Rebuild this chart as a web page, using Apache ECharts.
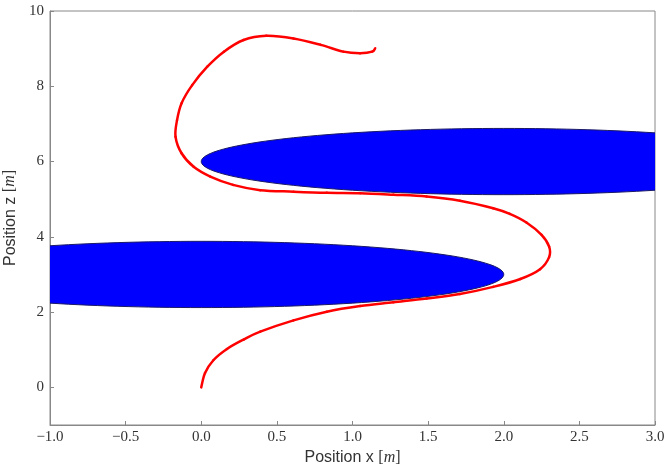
<!DOCTYPE html>
<html>
<head>
<meta charset="utf-8">
<script src="https://cdn.jsdelivr.net/npm/echarts@6/dist/echarts.min.js"></script>
<style>
  html, body { margin: 0; padding: 0; background: #fff; }
  #chart { width: 672px; height: 467px; }
</style>
</head>
<body>
<div id="chart"></div>
<script>
// trajectory
const trajX = [0.00, 0.025, 0.08, 0.17, 0.28, 0.39, 0.61, 0.83, 1.05, 1.27, 1.49, 1.71, 1.93, 2.11, 2.24, 2.30, 2.30, 2.25, 2.15, 2.04, 1.93, 1.71, 1.49, 1.27, 1.05, 0.83, 0.61, 0.39, 0.21, 0.06, -0.05, -0.13, -0.17, -0.16, -0.13, -0.06, 0.04, 0.15, 0.28, 0.43, 0.61, 0.79, 0.94, 1.05, 1.13, 1.15];
const trajZ = [0.00, 0.38, 0.72, 1.02, 1.27, 1.48, 1.78, 2.01, 2.16, 2.26, 2.36, 2.48, 2.67, 2.88, 3.14, 3.46, 3.74, 4.05, 4.38, 4.61, 4.76, 4.96, 5.07, 5.12, 5.16, 5.17, 5.20, 5.24, 5.38, 5.60, 5.86, 6.22, 6.66, 7.10, 7.55, 8.03, 8.52, 8.92, 9.23, 9.34, 9.27, 9.10, 8.92, 8.88, 8.92, 9.01];

// elliptical obstacles: centre, half-length, half-height
const obstacleCx = [2.0, 0.0];
const obstacleCz = [6.0, 3.0];
const obstacleA = [2.0, 2.0];
const obstacleB = [0.88, 0.88];

const xTicks = [-1.0, -0.5, 0.0, 0.5, 1.0, 1.5, 2.0, 2.5, 3.0];
const zTicks = [0, 2, 4, 6, 8, 10];

const chart = echarts.init(document.getElementById('chart'), null, { renderer: 'canvas' });

const fmtNum = (v, d) => {
  const s = Math.abs(v).toFixed(d);
  return v < 0 ? '\u2212' + s : s;
};

const tickFont = { fontFamily: 'Liberation Serif', fontSize: 15, color: '#333' };
const nameRich = {
  a: { fontFamily: 'Liberation Sans', fontSize: 16, color: '#333' },
  b: { fontFamily: 'Liberation Serif', fontSize: 16, color: '#333' },
  c: { fontFamily: 'Liberation Serif', fontSize: 16, fontStyle: 'italic', color: '#333' }
};

const obstacleData = obstacleCx.map((cx, i) => [cx, obstacleCz[i], obstacleA[i], obstacleB[i]]);
const trajData = trajX.map((x, i) => [x, trajZ[i]]);

// smooth curve through the trajectory points (Catmull-Rom -> bezier), one segment per item
function renderTrajSegment(params, api) {
  const i = params.dataIndex;
  const n = trajData.length;
  if (i >= n - 1) return null;
  const p = k => api.coord(trajData[Math.max(0, Math.min(n - 1, k))]);
  const p0 = p(i - 1), p1 = p(i), p2 = p(i + 1), p3 = p(i + 2);
  return {
    type: 'bezierCurve',
    shape: {
      x1: p1[0], y1: p1[1], x2: p2[0], y2: p2[1],
      cpx1: p1[0] + (p2[0] - p0[0]) / 6, cpy1: p1[1] + (p2[1] - p0[1]) / 6,
      cpx2: p2[0] - (p3[0] - p1[0]) / 6, cpy2: p2[1] - (p3[1] - p1[1]) / 6
    },
    style: { stroke: '#ff0000', lineWidth: 2.5, fill: null, lineCap: 'round' }
  };
}

chart.setOption({
  animation: false,
  backgroundColor: '#fff',
  grid: {
    left: 50, right: 17, top: 11, bottom: 42,
    containLabel: false, outerBoundsMode: 'none',
    show: true, borderColor: '#888', borderWidth: 1, backgroundColor: 'transparent'
  },
  xAxis: {
    type: 'value',
    min: -1, max: 3, interval: 0.5,
    name: '{a|Position x }{b|[}{c|m}{b|]}',
    nameLocation: 'middle', nameGap: 23,
    nameTextStyle: { rich: nameRich },
    axisLine: { show: true, onZero: false, lineStyle: { color: '#888' } },
    axisTick: { inside: true, length: 4, lineStyle: { color: '#888' } },
    axisLabel: { ...tickFont, margin: 5, formatter: v => fmtNum(v, 1), customValues: xTicks },
    splitLine: { show: false }
  },
  yAxis: {
    type: 'value',
    min: -1, max: 10,
    name: '{a|Position z }{b|[}{c|m}{b|]}',
    nameLocation: 'middle', nameGap: 29,
    nameTextStyle: { rich: nameRich },
    axisLine: { show: true, onZero: false, lineStyle: { color: '#888' } },
    axisTick: { inside: true, length: 4, lineStyle: { color: '#888' }, customValues: zTicks },
    axisLabel: { ...tickFont, margin: 6, formatter: v => fmtNum(v, 0), customValues: zTicks },
    splitLine: { show: false }
  },
  series: [
    {
      type: 'custom',
      clip: true,
      data: obstacleData,
      encode: { x: 0, y: 1 },
      renderItem: (params, api) => {
        const cx = api.value(0), cz = api.value(1), a = api.value(2), b = api.value(3);
        const pts = [];
        for (let k = 0; k <= 180; k++) {
          const t = (k / 180) * Math.PI * 2;
          pts.push(api.coord([cx + a * Math.cos(t), cz + b * Math.sin(t)]));
        }
        return {
          type: 'polygon',
          shape: { points: pts },
          style: { fill: '#0000ff', stroke: '#1a1a66', lineWidth: 1 }
        };
      },
      z: 1
    },
    {
      type: 'custom',
      data: trajData,
      encode: { x: 0, y: 1 },
      renderItem: renderTrajSegment,
      z: 2
    }
  ]
});
</script>
</body>
</html>
